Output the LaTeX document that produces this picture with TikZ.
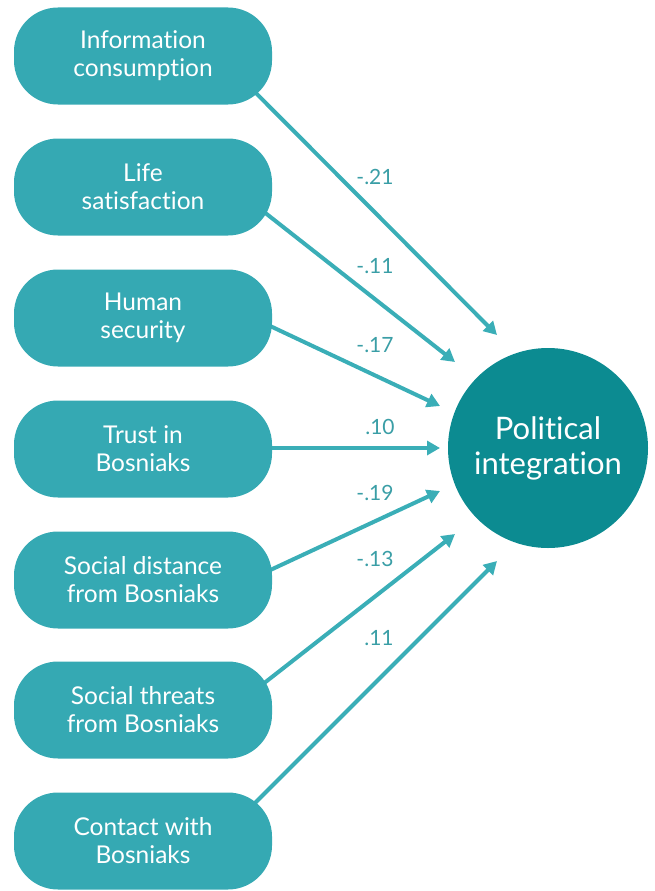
\documentclass[tikz,border=0pt]{standalone}
\usepackage{fontspec}
\setmainfont[Ligatures=NoCommon]{Lato}
\usetikzlibrary{arrows.meta,backgrounds,calc}
\definecolor{boxteal}{HTML}{35A9B3}
\definecolor{circteal}{HTML}{0C8B91}
\definecolor{arrowteal}{HTML}{3AAEB7}
\definecolor{labelteal}{HTML}{3A9EA6}
\begin{document}
\begin{tikzpicture}[x=1pt,y=-1pt,
  factor/.style={fill=boxteal, rounded corners=44pt, minimum width=258pt, minimum height=97pt, inner sep=0pt, text=white, font=\fontsize{24.5}{28}\selectfont, align=center},
  outcome/.style={circle, fill=circteal, minimum size=200pt, inner sep=0pt, text=white, font=\fontsize{31}{35}\selectfont, align=center},
  effect/.style={draw=arrowteal, line width=4pt, -{Triangle[length=13pt,width=14pt]}},
  coef/.style={text=labelteal, font=\fontsize{21}{24}\selectfont, inner sep=0pt}]
\useasboundingbox (0,0) rectangle (655,891);
\node[factor] (b1) at (143,56) {Information\\consumption};
\node[factor] (b2) at (143,187) {Life\\satisfaction};
\node[factor] (b3) at (143,318) {Human\\security};
\node[factor] (b4) at (143,449) {Trust in\\Bosniaks};
\node[factor] (b5) at (143,580) {Social distance\\from Bosniaks};
\node[factor] (b6) at (143,710) {Social threats\\from Bosniaks};
\node[factor] (b7) at (143,841) {Contact with\\Bosniaks};
\node[outcome] (pi) at (548,448) {Political\\integration};
\coordinate (t1) at (497,335);
\coordinate (t2) at (455,362);
\coordinate (t3) at (440,406);
\coordinate (t4) at (440,448);
\coordinate (t5) at (440,491);
\coordinate (t6) at (455,534);
\coordinate (t7) at (497,561);
\begin{scope}[on background layer]
\draw[effect] ($(b1.center)+(75,-1)$) -- (t1);
\draw[effect] ($(b2.center)+(88,-1)$) -- (t2);
\draw[effect] ($(b3.center)+(108,-1)$) -- (t3);
\draw[effect] ($(b4.center)+(107,-1)$) -- (t4);
\draw[effect] ($(b5.center)+(108,-1)$) -- (t5);
\draw[effect] ($(b6.center)+(88,-1)$) -- (t6);
\draw[effect] ($(b7.center)+(75,-1)$) -- (t7);
\end{scope}
\node[coef] (c1) at (375,177) {-.21};
\node[coef] (c2) at (375,266) {-.11};
\node[coef] (c3) at (375,345) {-.17};
\node[coef] (c4) at (380,427) {.10};
\node[coef] (c5) at (375,493) {-.19};
\node[coef] (c6) at (375,559) {-.13};
\node[coef] (c7) at (379,638) {.11};
\end{tikzpicture}
\end{document}
